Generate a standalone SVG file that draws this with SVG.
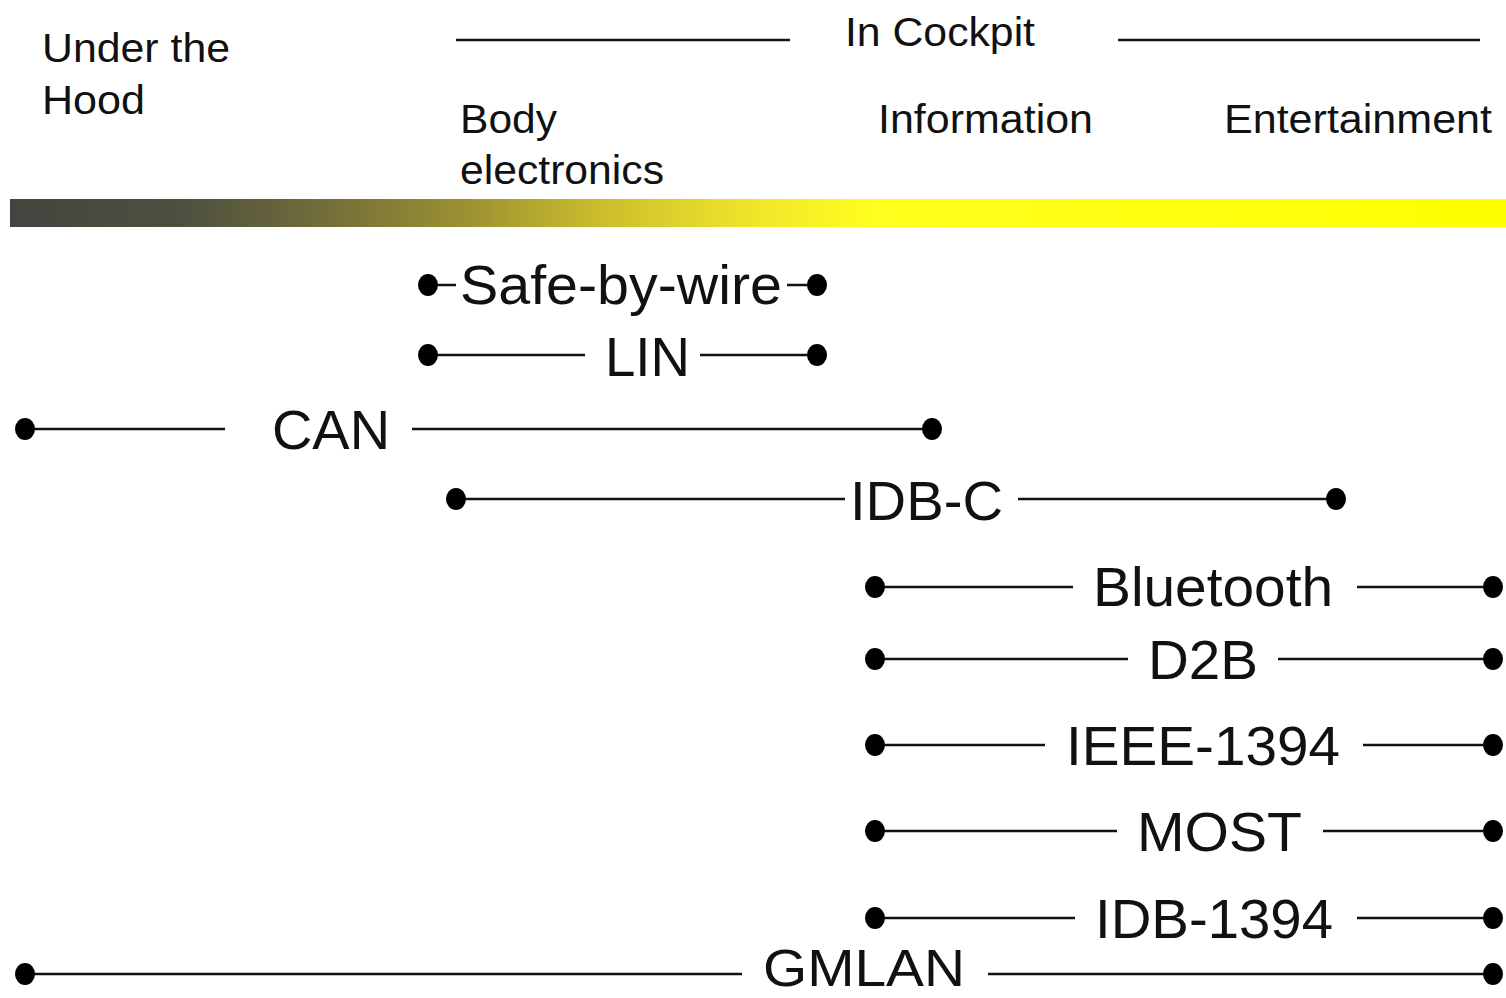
<svg xmlns="http://www.w3.org/2000/svg" width="1506" height="998" viewBox="0 0 1506 998">
<defs>
<linearGradient id="bar" x1="0" y1="0" x2="1" y2="0">
<stop offset="0" stop-color="#43453f"/>
<stop offset="0.12" stop-color="#4f513f"/>
<stop offset="0.2" stop-color="#6e6a3a"/>
<stop offset="0.3" stop-color="#9a8f32"/>
<stop offset="0.4" stop-color="#cdbf2c"/>
<stop offset="0.5" stop-color="#f2e62a"/>
<stop offset="0.58" stop-color="#ffff1e"/>
<stop offset="1" stop-color="#ffff00"/>
</linearGradient>
<style>
.h{font-family:"Liberation Sans",Arial,sans-serif;font-size:40px;fill:#111}
.l{font-family:"Liberation Sans",Arial,sans-serif;font-size:56px;fill:#111}
.w{stroke:#111;stroke-width:2.5;fill:none}
.d{fill:#000}
</style>
</defs>
<rect width="1506" height="998" fill="#fff"/>
<g id="header">
<text class="h" x="42" y="62" textLength="188" lengthAdjust="spacingAndGlyphs">Under the</text>
<text class="h" x="42" y="114" textLength="103" lengthAdjust="spacingAndGlyphs">Hood</text>
<text class="h" x="845" y="46" textLength="190" lengthAdjust="spacingAndGlyphs">In Cockpit</text>
<line class="w" x1="456" y1="40" x2="790" y2="40"/>
<line class="w" x1="1118" y1="40" x2="1480" y2="40"/>
<text class="h" x="460" y="133" textLength="97" lengthAdjust="spacingAndGlyphs">Body</text>
<text class="h" x="460" y="184" textLength="204" lengthAdjust="spacingAndGlyphs">electronics</text>
<text class="h" x="878" y="133" textLength="215" lengthAdjust="spacingAndGlyphs">Information</text>
<text class="h" x="1224" y="133" textLength="268" lengthAdjust="spacingAndGlyphs">Entertainment</text>
<rect x="10" y="199" width="1496" height="28" fill="url(#bar)"/>
</g>
<g id="connectors">
<line class="w" x1="428" y1="285" x2="456" y2="285"/><line class="w" x1="787" y1="285" x2="817" y2="285"/>
<line class="w" x1="428" y1="355" x2="585" y2="355"/><line class="w" x1="700" y1="355" x2="817" y2="355"/>
<line class="w" x1="25" y1="429" x2="225" y2="429"/><line class="w" x1="412" y1="429" x2="932" y2="429"/>
<line class="w" x1="456" y1="499" x2="845" y2="499"/><line class="w" x1="1018" y1="499" x2="1336" y2="499"/>
<line class="w" x1="875" y1="587" x2="1073" y2="587"/><line class="w" x1="1357" y1="587" x2="1493" y2="587"/>
<line class="w" x1="875" y1="659" x2="1128" y2="659"/><line class="w" x1="1278" y1="659" x2="1493" y2="659"/>
<line class="w" x1="875" y1="745" x2="1045" y2="745"/><line class="w" x1="1363" y1="745" x2="1493" y2="745"/>
<line class="w" x1="875" y1="831" x2="1117" y2="831"/><line class="w" x1="1323" y1="831" x2="1493" y2="831"/>
<line class="w" x1="875" y1="918" x2="1075" y2="918"/><line class="w" x1="1357" y1="918" x2="1493" y2="918"/>
<line class="w" x1="25" y1="974" x2="742" y2="974"/><line class="w" x1="988" y1="974" x2="1493" y2="974"/>
</g>
<g id="safe-by-wire">
<ellipse class="d" cx="428" cy="285" rx="10" ry="11"/><ellipse class="d" cx="817" cy="285" rx="10" ry="11"/>
<text class="l" x="460" y="304" textLength="322" lengthAdjust="spacingAndGlyphs">Safe-by-wire</text>
</g>
<g id="lin">
<ellipse class="d" cx="428" cy="355" rx="10" ry="11"/><ellipse class="d" cx="817" cy="355" rx="10" ry="11"/>
<text class="l" x="605" y="376" textLength="85" lengthAdjust="spacingAndGlyphs">LIN</text>
</g>
<g id="can">
<ellipse class="d" cx="25" cy="429" rx="10" ry="11"/><ellipse class="d" cx="932" cy="429" rx="10" ry="11"/>
<text class="l" x="272" y="449" textLength="118" lengthAdjust="spacingAndGlyphs">CAN</text>
</g>
<g id="idb-c">
<ellipse class="d" cx="456" cy="499" rx="10" ry="11"/><ellipse class="d" cx="1336" cy="499" rx="10" ry="11"/>
<text class="l" x="850" y="520" textLength="153" lengthAdjust="spacingAndGlyphs">IDB-C</text>
</g>
<g id="bluetooth">
<ellipse class="d" cx="875" cy="587" rx="10" ry="11"/><ellipse class="d" cx="1493" cy="587" rx="10" ry="11"/>
<text class="l" x="1093" y="606" textLength="240" lengthAdjust="spacingAndGlyphs">Bluetooth</text>
</g>
<g id="d2b">
<ellipse class="d" cx="875" cy="659" rx="10" ry="11"/><ellipse class="d" cx="1493" cy="659" rx="10" ry="11"/>
<text class="l" x="1148" y="679" textLength="110" lengthAdjust="spacingAndGlyphs">D2B</text>
</g>
<g id="ieee-1394">
<ellipse class="d" cx="875" cy="745" rx="10" ry="11"/><ellipse class="d" cx="1493" cy="745" rx="10" ry="11"/>
<text class="l" x="1066" y="765" textLength="274" lengthAdjust="spacingAndGlyphs">IEEE-1394</text>
</g>
<g id="most">
<ellipse class="d" cx="875" cy="831" rx="10" ry="11"/><ellipse class="d" cx="1493" cy="831" rx="10" ry="11"/>
<text class="l" x="1137" y="851" textLength="165" lengthAdjust="spacingAndGlyphs">MOST</text>
</g>
<g id="idb-1394">
<ellipse class="d" cx="875" cy="918" rx="10" ry="11"/><ellipse class="d" cx="1493" cy="918" rx="10" ry="11"/>
<text class="l" x="1095" y="938" textLength="238" lengthAdjust="spacingAndGlyphs">IDB-1394</text>
</g>
<g id="gmlan">
<ellipse class="d" cx="25" cy="974" rx="10" ry="11"/><ellipse class="d" cx="1493" cy="974" rx="10" ry="11"/>
<text class="l" x="763" y="986" style="font-size:52px" textLength="202" lengthAdjust="spacingAndGlyphs">GMLAN</text>
</g>
</svg>
